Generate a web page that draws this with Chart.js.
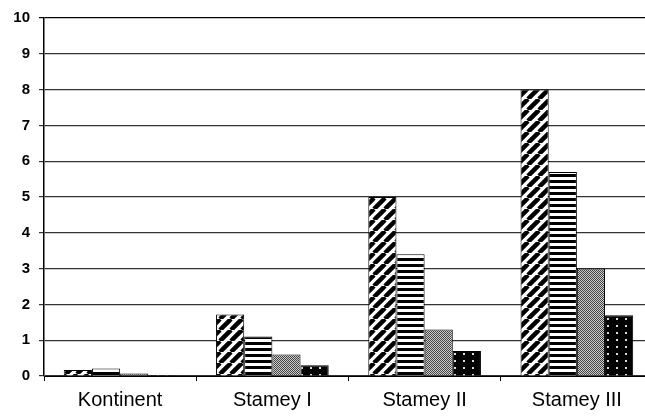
<!DOCTYPE html>
<html>
<head>
<meta charset="utf-8">
<script src="https://cdn.jsdelivr.net/npm/chart.js@4/dist/chart.umd.min.js"></script>
<style>
  html, body { margin: 0; padding: 0; background: #fff; overflow: hidden; }
  #wrap { width: 660px; height: 419px; }
</style>
</head>
<body>
<div id="wrap"><canvas id="chart1"></canvas></div>
<script>
var categories = ['Kontinent', 'Stamey I', 'Stamey II', 'Stamey III'];
var series1 = [0.17, 1.72, 5.0, 8.0];
var series2 = [0.21, 1.1, 3.4, 5.7];
var series3 = [0.07, 0.6, 1.3, 3.0];
var series4 = [0.03, 0.3, 0.7, 1.7];
var yTicks = [0, 1, 2, 3, 4, 5, 6, 7, 8, 9, 10];

// small canvas tiles used as fill patterns
function makeTile(w, h, draw) {
    var c = document.createElement('canvas');
    c.width = w;
    c.height = h;
    var g = c.getContext('2d');
    g.fillStyle = '#fff';
    g.fillRect(0, 0, w, h);
    draw(g, w, h);
    return document.createElement('canvas').getContext('2d').createPattern(c, 'repeat');
}

var diag = makeTile(11, 11, function (g, w, h) {
    g.strokeStyle = '#000';
    g.lineWidth = 4.5;
    g.beginPath();
    for (var k = -1; k <= 1; k++) {
        g.moveTo(k * w, h);
        g.lineTo(k * w + w, 0);
    }
    g.stroke();
});

var horiz = makeTile(6, 6, function (g, w, h) {
    g.fillStyle = '#000';
    g.fillRect(0, 0, w, 3);
});

var checker = makeTile(2, 2, function (g) {
    g.fillStyle = '#ccc';
    g.fillRect(0, 0, 2, 2);
    g.fillStyle = '#444';
    g.fillRect(0, 0, 1, 1);
    g.fillRect(1, 1, 1, 1);
});

var dots = makeTile(9, 7, function (g, w, h) {
    g.fillStyle = '#000';
    g.fillRect(0, 0, w, h);
    g.fillStyle = '#ddd';
    g.fillRect(4, 3, 2, 2);
});

var ctx1 = document.getElementById('chart1').getContext('2d');

var chart1 = new Chart(ctx1, {
    type: 'bar',
    data: {
        labels: categories,
        datasets: [
            { data: series1, backgroundColor: diag },
            { data: series2, backgroundColor: horiz },
            { data: series3, backgroundColor: checker },
            { data: series4, backgroundColor: dots }
        ].map(function (d) {
            d.borderColor = '#000';
            d.borderWidth = 1;
            d.categoryPercentage = 0.74;
            d.barPercentage = 1.0;
            return d;
        })
    },
    options: {
        responsive: true,
        maintainAspectRatio: false,
        animation: false,
        layout: { padding: { top: 15, right: 7, left: 0, bottom: 0 } },
        plugins: {
            legend: { display: false },
            tooltip: { enabled: false }
        },
        scales: {
            x: {
                grid: {
                    offset: true,
                    drawOnChartArea: false,
                    color: '#000',
                    tickLength: 5
                },
                border: { color: '#000', width: 1 },
                ticks: {
                    color: '#000',
                    padding: 7,
                    font: { family: 'Liberation Sans', size: 20 }
                },
                afterFit: function (s) { s.height = 43; }
            },
            y: {
                min: 0,
                max: 10,
                afterBuildTicks: function (s) {
                    s.ticks = yTicks.map(function (v) { return { value: v }; });
                },
                grid: {
                    color: function (c) { return c.tick && c.tick.value === 10 ? '#000' : '#333'; },
                    lineWidth: 1.2,
                    tickLength: 5
                },
                border: { color: '#000', width: 1.5 },
                ticks: {
                    color: '#000',
                    padding: 9,
                    font: { family: 'Liberation Sans', size: 15, weight: 'bold' }
                },
                afterFit: function (s) { s.width = 44; }
            }
        }
    }
});
</script>
</body>
</html>
